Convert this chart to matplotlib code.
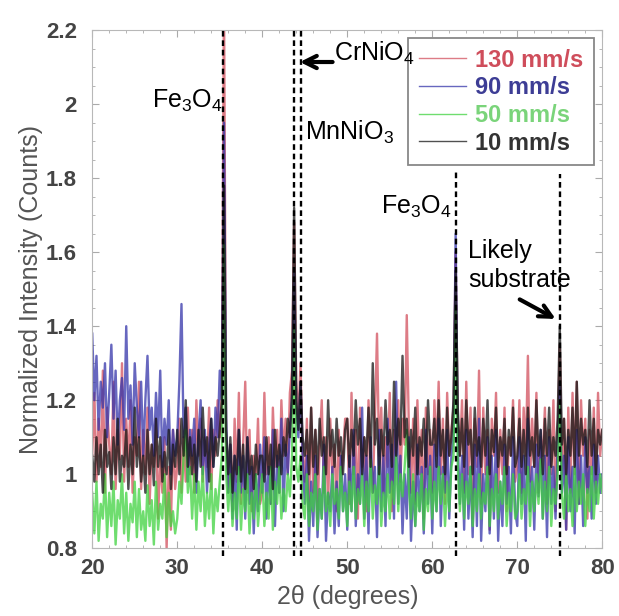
import numpy as np
import matplotlib
matplotlib.use('Agg')
import matplotlib.pyplot as plt
from matplotlib.ticker import MultipleLocator

plt.rcParams['font.family'] = ['Liberation Sans', 'DejaVu Sans']
plt.rcParams['mathtext.fontset'] = 'custom'
plt.rcParams['mathtext.rm'] = 'Liberation Sans'

# 2-theta grid start / step (degrees)
X0 = 20.0
DX = 0.25

# normalized intensities, one value per 0.25 degree (rows = 5 degree blocks)
i130 = [1.05, 1.22, 0.98, 1.15, 1.02, 1.28, 0.95, 1.18, 1.08, 1.00, 1.25, 0.96, 1.12, 1.04, 1.30, 0.98, 1.15, 1.02, 1.20, 0.95,
        1.10, 1.05, 1.25, 0.96, 1.12, 1.00, 1.18, 0.92, 1.08, 1.02, 1.15, 0.88, 1.05, 0.95, 1.10, 0.80, 1.02, 0.85, 1.12, 0.96,
        1.02, 1.15, 0.95, 1.10, 0.98, 1.18, 1.00, 1.12, 0.95, 1.20, 1.05, 1.15, 0.98, 1.10, 1.02, 1.18, 0.96, 1.12, 1.05, 1.20,
        1.10, 1.22, 2.30, 1.12, 0.95, 1.08, 0.90, 1.15, 0.98, 1.22, 0.92, 1.08, 1.25, 0.95, 1.12, 0.90, 1.05, 0.98, 1.15, 0.92,
        0.95, 1.22, 1.00, 1.10, 0.92, 1.18, 1.02, 1.12, 0.95, 1.20, 1.05, 1.15, 1.00, 1.22, 1.28, 1.68, 1.25, 1.15, 1.30, 1.05,
        0.98, 1.15, 0.90, 1.18, 0.95, 1.12, 0.88, 1.08, 1.20, 0.95, 1.10, 0.92, 1.15, 1.00, 1.08, 0.90, 1.12, 0.98, 1.05, 1.15,
        1.15, 0.92, 1.22, 1.00, 1.12, 0.88, 1.18, 1.02, 1.10, 0.90, 1.20, 1.05, 0.95, 1.15, 1.38, 1.05, 1.18, 0.95, 1.10, 1.02,
        1.22, 0.90, 1.12, 1.05, 1.20, 0.98, 1.15, 1.08, 1.43, 1.12, 0.95, 1.15, 0.92, 1.20, 1.00, 1.12, 0.88, 1.18, 1.00, 1.12,
        0.95, 1.20, 1.05, 1.25, 1.00, 1.15, 0.92, 1.22, 1.05, 1.12, 1.18, 1.60, 1.15, 1.05, 1.20, 0.95, 1.25, 1.00, 1.18, 0.88,
        1.15, 1.02, 1.28, 0.92, 1.18, 1.00, 1.12, 0.85, 1.15, 1.05, 1.22, 0.95, 1.12, 1.00, 1.18, 0.90, 1.10, 1.05, 1.20, 0.98,
        1.02, 1.20, 0.95, 1.18, 1.05, 1.32, 0.98, 1.15, 1.02, 1.22, 0.95, 1.10, 1.05, 1.18, 0.92, 1.12, 1.00, 1.20, 0.90, 1.10,
        1.35, 1.00, 1.15, 0.85, 1.18, 0.95, 1.22, 1.00, 1.25, 0.92, 1.20, 1.05, 1.15, 0.88, 1.12, 1.00, 1.18, 0.95, 1.22, 1.05,
        1.12]

i90 = [1.38, 1.20, 1.32, 1.12, 1.25, 1.18, 1.30, 1.10, 1.22, 1.35, 1.15, 1.28, 1.08, 1.20, 1.26, 1.12, 1.40, 1.15, 1.24, 1.08,
       1.30, 1.18, 1.10, 1.25, 1.05, 1.20, 1.32, 1.12, 1.18, 1.05, 1.22, 1.10, 1.28, 1.02, 1.15, 1.08, 1.20, 1.00, 1.12, 1.05,
       1.10, 1.25, 1.46, 1.10, 1.18, 0.98, 1.12, 1.05, 1.15, 0.95, 1.10, 1.20, 1.00, 1.12, 0.95, 1.08, 1.15, 1.02, 1.18, 1.10,
       1.28, 1.20, 1.95, 1.15, 0.95, 1.08, 0.88, 1.05, 0.85, 1.12, 0.95, 1.05, 0.88, 1.10, 0.92, 1.02, 0.84, 1.00, 0.90, 1.08,
       0.95, 1.10, 0.88, 1.02, 0.92, 1.12, 0.86, 1.05, 0.95, 1.15, 0.90, 1.08, 1.00, 1.12, 1.20, 1.55, 1.18, 1.10, 1.25, 1.05,
       0.92, 1.05, 0.82, 0.98, 0.86, 1.05, 0.83, 0.96, 0.88, 1.08, 0.82, 0.95, 0.90, 1.02, 0.84, 0.98, 0.86, 1.05, 0.90, 1.00,
       0.85, 1.05, 0.90, 1.12, 0.86, 1.00, 0.92, 1.18, 0.88, 1.05, 0.84, 1.10, 0.95, 1.02, 0.83, 1.12, 0.90, 1.05, 0.86, 1.15,
       0.95, 1.08, 0.88, 1.25, 0.92, 1.05, 0.84, 1.00, 0.88, 1.10, 0.82, 0.98, 0.86, 1.08, 0.90, 1.02, 0.84, 1.12, 0.92, 1.05,
       0.84, 1.08, 0.90, 1.15, 0.86, 1.02, 0.95, 1.12, 0.88, 1.05, 1.10, 1.65, 1.08, 0.92, 1.05, 0.85, 1.12, 0.88, 1.02, 0.83,
       1.08, 0.86, 1.15, 0.82, 1.00, 0.90, 1.10, 0.84, 1.05, 0.88, 1.12, 0.82, 0.98, 0.86, 1.08, 0.92, 1.02, 0.84, 1.10, 0.90,
       0.86, 1.10, 0.92, 1.05, 0.82, 1.15, 0.90, 1.02, 0.85, 1.08, 0.94, 1.12, 0.88, 1.05, 0.83, 1.10, 0.92, 1.02, 0.88, 1.08,
       1.25, 0.95, 1.05, 0.85, 1.10, 0.90, 1.02, 0.84, 1.12, 0.92, 1.05, 0.86, 1.10, 0.95, 1.02, 0.88, 1.08, 0.92, 1.05, 0.95,
       1.00]

i50 = [0.95, 0.84, 0.98, 0.82, 0.92, 0.88, 1.00, 0.83, 0.95, 0.86, 0.98, 0.81, 0.93, 0.88, 1.00, 0.84, 0.95, 0.82, 0.92, 0.87,
       0.98, 0.83, 0.96, 0.85, 0.90, 0.82, 0.97, 0.86, 0.93, 0.81, 0.98, 0.85, 0.92, 0.88, 1.00, 0.83, 0.95, 0.86, 0.90, 0.84,
       0.88, 0.98, 0.92, 1.05, 1.12, 0.95, 1.02, 0.88, 1.00, 0.85, 0.98, 0.90, 1.02, 0.86, 0.95, 0.88, 1.00, 0.84, 0.96, 0.90,
       0.98, 1.05, 1.62, 1.00, 0.90, 1.00, 0.86, 0.95, 0.88, 1.02, 0.85, 0.96, 0.90, 1.00, 0.84, 0.95, 0.88, 1.00, 0.86, 0.94,
       1.00, 0.86, 0.95, 0.88, 1.02, 0.85, 0.98, 0.92, 1.02, 0.88, 0.96, 0.90, 1.00, 0.94, 1.05, 1.40, 1.02, 0.98, 1.05, 0.92,
       0.88, 1.00, 0.86, 0.95, 0.90, 1.00, 0.85, 0.96, 0.88, 1.02, 0.90, 0.95, 0.86, 1.00, 0.92, 0.96, 0.88, 1.02, 0.90, 0.95,
       0.86, 0.98, 0.90, 1.02, 0.88, 0.96, 0.92, 1.00, 0.86, 0.98, 0.90, 1.04, 0.88, 0.97, 0.92, 1.02, 0.86, 0.95, 0.90, 1.00,
       0.88, 0.98, 0.92, 1.05, 0.90, 1.00, 0.94, 1.02, 1.12, 0.96, 0.88, 1.00, 0.86, 0.95, 0.90, 1.00, 0.85, 0.96, 0.90, 1.02,
       0.88, 0.98, 0.90, 1.02, 0.92, 1.00, 0.86, 0.98, 0.90, 1.02, 1.05, 1.45, 1.02, 0.90, 1.00, 0.88, 0.98, 0.92, 1.02, 0.86,
       0.96, 0.90, 1.00, 0.88, 0.95, 0.92, 1.02, 0.86, 0.96, 0.90, 1.00, 0.88, 0.98, 0.92, 1.02, 0.86, 0.95, 0.90, 1.00, 0.88,
       0.90, 1.00, 0.88, 0.96, 0.92, 1.02, 0.86, 0.98, 0.90, 1.00, 0.92, 1.04, 0.88, 0.98, 0.90, 1.02, 0.86, 0.96, 0.92, 1.00,
       1.20, 0.95, 0.88, 1.00, 0.90, 0.96, 0.86, 1.02, 0.90, 0.98, 0.92, 1.00, 0.86, 0.96, 0.90, 1.02, 0.88, 0.98, 0.92, 1.00,
       0.95]

i10 = [1.05, 0.98, 1.10, 1.00, 1.08, 0.95, 1.12, 1.02, 1.06, 0.96, 1.10, 1.00, 1.15, 0.98, 1.05, 1.02, 1.12, 0.96, 1.08, 1.00,
       1.18, 1.02, 1.10, 0.98, 1.05, 0.95, 1.12, 1.00, 1.08, 0.97, 1.15, 1.02, 1.10, 0.98, 1.06, 1.00, 1.12, 0.96, 1.08, 1.02,
       1.12, 1.00, 1.15, 1.05, 1.20, 1.02, 1.10, 1.00, 1.08, 0.98, 1.12, 1.02, 1.18, 1.05, 1.10, 0.98, 1.15, 1.02, 1.10, 1.05,
       1.12, 1.20, 1.78, 1.12, 1.00, 1.10, 0.95, 1.05, 1.00, 1.12, 0.98, 1.08, 0.96, 1.10, 1.00, 1.05, 0.96, 1.08, 1.00, 1.05,
       1.05, 0.98, 1.10, 1.00, 1.08, 0.96, 1.12, 1.02, 1.08, 1.00, 1.10, 1.05, 1.15, 1.10, 1.22, 1.72, 1.20, 1.12, 1.25, 1.10,
       1.05, 1.12, 1.00, 1.18, 1.02, 1.12, 1.00, 1.15, 1.05, 1.10, 1.00, 1.20, 1.05, 1.12, 1.02, 1.15, 1.05, 1.10, 1.00, 1.12,
       1.15, 1.02, 1.12, 1.05, 1.20, 1.08, 1.15, 1.00, 1.10, 1.05, 1.18, 1.02, 1.30, 1.08, 1.15, 1.00, 1.12, 1.05, 1.20, 1.08,
       1.12, 1.02, 1.25, 1.05, 1.15, 1.08, 1.32, 1.10, 1.15, 1.02, 1.12, 1.05, 1.18, 1.00, 1.10, 1.05, 1.15, 1.02, 1.20, 1.08,
       1.08, 1.15, 1.02, 1.20, 1.05, 1.12, 1.00, 1.18, 1.05, 1.10, 1.20, 1.55, 1.18, 1.05, 1.15, 1.02, 1.20, 1.08, 1.12, 1.00,
       1.18, 1.05, 1.10, 1.02, 1.15, 1.05, 1.20, 1.00, 1.12, 1.06, 1.18, 1.02, 1.10, 1.05, 1.15, 1.00, 1.12, 1.05, 1.18, 1.02,
       1.05, 1.15, 1.02, 1.12, 1.00, 1.18, 1.05, 1.10, 1.02, 1.20, 1.05, 1.12, 1.00, 1.15, 1.05, 1.18, 1.02, 1.10, 1.05, 1.15,
       1.40, 1.08, 1.15, 1.00, 1.12, 1.05, 1.18, 1.02, 1.25, 1.05, 1.15, 1.08, 1.12, 1.02, 1.20, 1.05, 1.15, 1.00, 1.12, 1.08,
       1.12]

labels = ['130 mm/s', '90 mm/s', '50 mm/s', '10 mm/s']
series = [i130, i90, i50, i10]
colors = ['#d2505e', '#3434aa', '#3fd23f', '#151515']
text_colors = ['#cf4d5b', '#3d3d95', '#7ad47a', '#333333']

# reference peak positions (dashed markers)
peaks = [35.4, 43.7, 44.6, 62.8, 75.0]
peak_top = [2.2, 2.2, 2.2, 1.82, 1.81]

fig = plt.figure(figsize=(6.19, 6.16), dpi=100)
ax = fig.add_axes([0.149, 0.110, 0.824, 0.841])

for y, c, lab in zip(series, colors, labels):
    x = X0 + DX * np.arange(len(y))
    ax.plot(x, y, color=c, lw=1.7, alpha=0.75, label=lab)

for px, top in zip(peaks, peak_top):
    ax.plot([px, px], [0.778, top], color='black', lw=1.7, ls=(0, (2.4, 1.6)),
            clip_on=False, zorder=5)

ax.set_xlim(20, 80)
ax.set_ylim(0.8, 2.2)
ax.set_xticks([20, 30, 40, 50, 60, 70, 80])
ax.set_yticks([0.8, 1.0, 1.2, 1.4, 1.6, 1.8, 2.0, 2.2])
ax.set_yticklabels(['0.8', '1', '1.2', '1.4', '1.6', '1.8', '2', '2.2'])
ax.xaxis.set_minor_locator(MultipleLocator(2))
ax.yaxis.set_minor_locator(MultipleLocator(0.05))
ax.tick_params(which='both', direction='in', top=True, right=True, color='#aaaaaa')
ax.tick_params(which='major', length=5, labelsize=16, labelcolor='#444444')
ax.tick_params(axis='y', which='major', pad=11)
ax.tick_params(axis='x', which='major', pad=7)
ax.tick_params(which='minor', length=2.5)
for lbl in ax.get_xticklabels() + ax.get_yticklabels():
    lbl.set_fontweight('bold')
for s in ax.spines.values():
    s.set_color('#b8b8b8')
    s.set_linewidth(0.8)

ax.set_xlabel('2\u03b8 (degrees)', fontsize=18, color='#555555', labelpad=4)
ax.set_ylabel('Normalized Intensity (Counts)', fontsize=18, color='#555555', labelpad=2)

leg = ax.legend(loc='upper right', bbox_to_anchor=(0.984, 0.985), fontsize=17,
                handlelength=2.0, handletextpad=0.4, labelspacing=0.2,
                borderpad=0.45, borderaxespad=0.0, fancybox=False, framealpha=1.0)
leg.get_frame().set_edgecolor('#888888')
leg.get_frame().set_linewidth(1.3)
for t, c in zip(leg.get_texts(), text_colors):
    t.set_color(c)
    t.set_fontweight('bold')
for h in leg.get_lines():
    h.set_linewidth(1.0)

sub3 = '$_\\mathregular{3}$'
sub4 = '$_\\mathregular{4}$'
tk = dict(fontsize=18, va='baseline', zorder=8)
ax.text(35.3, 1.99, 'Fe' + sub3 + 'O' + sub4, ha='right', **tk)
ax.text(48.4, 2.118, 'CrNiO' + sub4, ha='left', **tk)
ax.annotate('', xy=(44.1, 2.114), xytext=(48.6, 2.114),
            arrowprops=dict(arrowstyle='->', lw=3, color='black', mutation_scale=22))
ax.text(45.05, 1.903, 'MnNiO' + sub3, ha='left', **tk)
ax.text(62.35, 1.705, 'Fe' + sub3 + 'O' + sub4, ha='right', **tk)
ax.text(64.2, 1.584, 'Likely', ha='left', **tk)
ax.text(64.2, 1.505, 'substrate', ha='left', **tk)
ax.annotate('', xy=(74.8, 1.416), xytext=(70.0, 1.476),
            arrowprops=dict(arrowstyle='->', lw=3, color='black', mutation_scale=22))

fig.savefig('out.png', dpi=100)
